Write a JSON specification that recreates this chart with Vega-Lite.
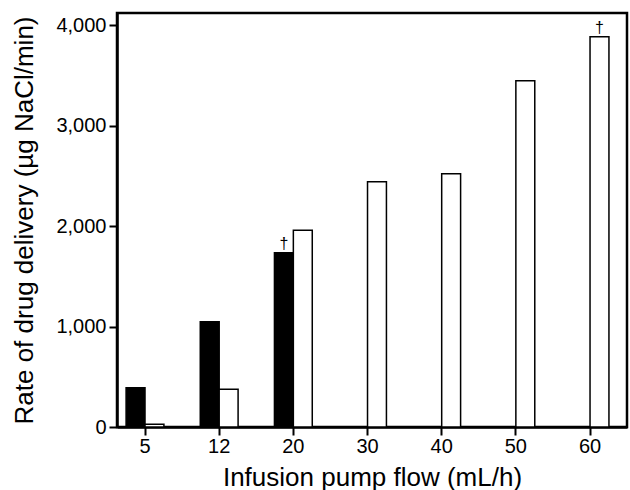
{
  "$schema": "https://vega.github.io/schema/vega-lite/v6.json",
  "width": 510,
  "height": 414,
  "autosize": {"type": "none"},
  "padding": {"left": 117, "top": 13, "right": 3, "bottom": 63},
  "background": "white",
  "config": {
    "view": {"stroke": "black", "strokeWidth": 2.5},
    "font": "Liberation Sans",
    "axis": {
      "domainColor": "black",
      "domainWidth": 2.5,
      "tickColor": "black",
      "tickWidth": 2,
      "tickSize": 8,
      "labelFont": "Liberation Sans",
      "labelFontSize": 20,
      "labelColor": "black",
      "labelPadding": 3,
      "titleFont": "Liberation Sans",
      "titleFontSize": 26,
      "titleFontWeight": "normal",
      "titleColor": "black",
      "grid": false
    }
  },
  "data": {
    "values": [
      {"flow": 5, "series": "A", "rate": 390},
      {"flow": 5, "series": "B", "rate": 28},
      {"flow": 12, "series": "A", "rate": 1048},
      {"flow": 12, "series": "B", "rate": 375},
      {"flow": 20, "series": "A", "rate": 1734, "note": "†"},
      {"flow": 20, "series": "B", "rate": 1958},
      {"flow": 30, "series": "B", "rate": 2441},
      {"flow": 40, "series": "B", "rate": 2520},
      {"flow": 50, "series": "B", "rate": 3446},
      {"flow": 60, "series": "B", "rate": 3884, "note": "†"}
    ]
  },
  "encoding": {
    "x": {
      "field": "flow",
      "type": "ordinal",
      "scale": {"domain": [5, 12, 20, 30, 40, 50, 60], "paddingInner": 0.49, "paddingOuter": 0.183, "align": 0.335},
      "axis": {"title": "Infusion pump flow (mL/h)", "labelAngle": 0, "labelPadding": 1, "titlePadding": 8}
    },
    "xOffset": {
      "field": "series",
      "type": "nominal",
      "scale": {"domain": ["A", "B"], "paddingInner": 0, "paddingOuter": 0}
    },
    "y": {
      "field": "rate",
      "type": "quantitative",
      "scale": {"domain": [0, 4120], "nice": false},
      "axis": {"title": "Rate of drug delivery (µg NaCl/min)", "values": [0, 1000, 2000, 3000, 4000], "format": ",.0f", "titlePadding": 18}
    }
  },
  "layer": [
    {
      "mark": {"type": "bar", "stroke": "black", "strokeWidth": 1.5},
      "encoding": {
        "fill": {
          "field": "series",
          "type": "nominal",
          "scale": {"domain": ["A", "B"], "range": ["black", "white"]},
          "legend": null
        }
      }
    },
    {
      "transform": [{"filter": "datum.note"}],
      "mark": {"type": "text", "fontSize": 16, "baseline": "alphabetic", "dy": -4, "color": "black", "font": "Liberation Sans"},
      "encoding": {"text": {"field": "note"}}
    }
  ]
}
